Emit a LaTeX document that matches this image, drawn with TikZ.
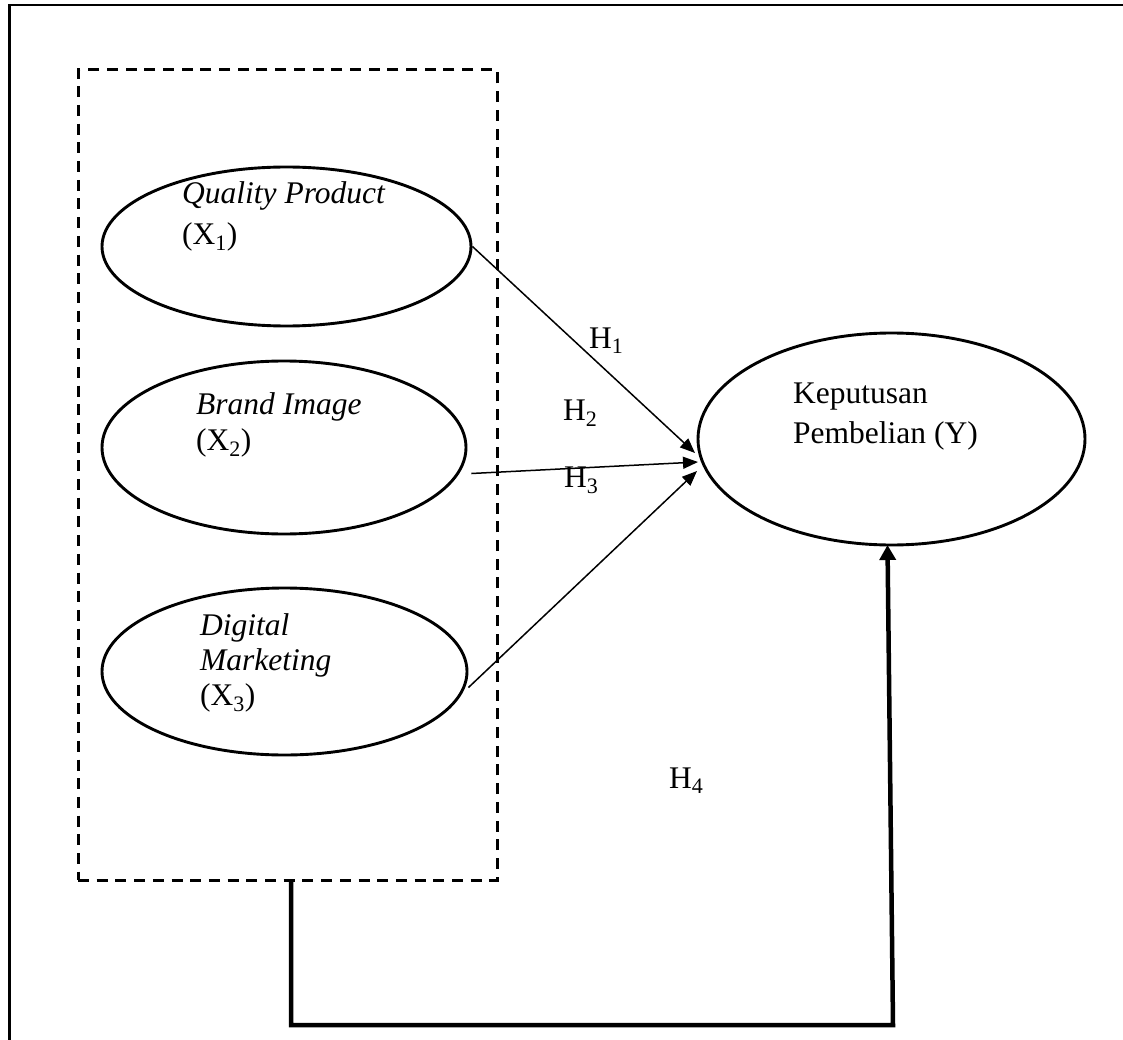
\documentclass[tikz,border=0pt]{standalone}
\usepackage{fontspec}
\setmainfont{Liberation Serif}
\usetikzlibrary{shapes.geometric,arrows.meta}
\tikzset{
  oval/.style={draw, ellipse, line width=2.9pt, inner sep=0pt},
  lbl/.style={anchor=base west, inner sep=0pt, font=\fontsize{31.5}{38}\selectfont},
  grpbox/.style={draw, dash pattern=on 11pt off 7.7pt, line width=3pt, inner sep=0pt},
  thinarrow/.style={line width=1.5pt, -{Triangle[length=15pt,width=12pt]}},
  thickarrow/.style={line width=4.5pt, -{Triangle[length=15pt,width=16pt]}},
}
\begin{document}
\begin{tikzpicture}[x=1pt,y=-1pt]
\useasboundingbox (0,0) rectangle (1123,1040);
% outer frame (top and left visible)
\draw[line width=2.2pt] (1123,5) -- (9.5,5) -- (9.5,1040);
% dashed group box
\node[grpbox, minimum width=419pt, minimum height=810pt] (grp) at (287.5,475) {};
% ellipses
\node[oval, minimum width=369pt, minimum height=159pt] (q) at (286.5,246.5) {};
\node[oval, minimum width=364pt, minimum height=173pt] (b) at (284,447.5) {};
\node[oval, minimum width=365pt, minimum height=167pt] (d) at (284.5,671.5) {};
\node[oval, minimum width=387pt, minimum height=212pt] (y) at (891.5,439) {};
% labels
\node[lbl] (tq1) at (182,204) {\itshape Quality Product};
\node[lbl] (tq2) at (182,245) {(X\textsubscript{1})};
\node[lbl] (tb1) at (196,414) {\itshape Brand Image};
\node[lbl] (tb2) at (196,450) {(X\textsubscript{2})};
\node[lbl] (td1) at (200,635) {\itshape Digital};
\node[lbl] (td2) at (200,670) {\itshape Marketing};
\node[lbl] (td3) at (200,705) {(X\textsubscript{3})};
\node[lbl] (ty1) at (793,403) {Keputusan};
\node[lbl] (ty2) at (793,443) {Pembelian (Y)};
\node[lbl] (h1) at (589,348) {H\textsubscript{1}};
\node[lbl] (h2) at (563,420) {H\textsubscript{2}};
\node[lbl] (h3) at (564,487) {H\textsubscript{3}};
\node[lbl] (h4) at (669,788) {H\textsubscript{4}};
% connector end points
\coordinate (t1) at (695,453);
\coordinate (t2) at (698,462);
\coordinate (t3) at (697,471);
\coordinate (s4) at (291,880);
\coordinate (c4a) at (291,1025);
\coordinate (c4b) at (893,1025);
\coordinate (t4) at (887.5,545);
% connectors
\draw[thinarrow] (q.east) -- (t1);
\draw[thinarrow] (b.east) ++(4,26) coordinate (s2) (s2) -- (t2);
\draw[thinarrow] (d.east) ++(0,16) coordinate (s3) (s3) -- (t3);
\draw[thickarrow] (s4) -- (c4a) -- (c4b) -- (t4);
\end{tikzpicture}
\end{document}
